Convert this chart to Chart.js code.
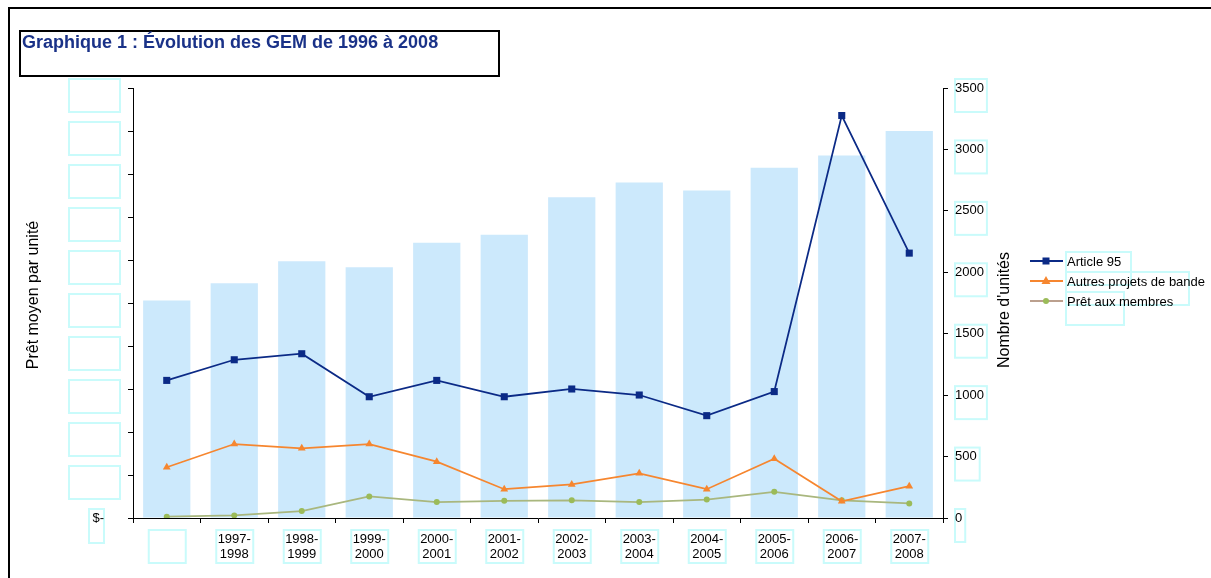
<!DOCTYPE html>
<html>
<head>
<meta charset="utf-8">
<title>Graphique 1</title>
<script src="https://cdn.jsdelivr.net/npm/chart.js@4/dist/chart.umd.min.js"></script>
<style>
  html, body { margin: 0; padding: 0; background: #fff; }
  #wrap { width: 1211px; height: 578px; }
</style>
</head>
<body>
<div id="wrap"><canvas id="chart" width="1211" height="578"></canvas></div>
<script>
// ── Data ───────────────────────────────────────────────────
const categories = ['', '1997-1998', '1998-1999', '1999-2000', '2000-2001', '2001-2002',
  '2002-2003', '2003-2004', '2004-2005', '2005-2006', '2006-2007', '2007-2008'];

// Nombre d'unités (axe de droite)
const nombreUnites = [1770, 1910, 2090, 2040, 2240, 2305, 2610, 2730, 2665, 2850, 2950, 3150];

// Prêt moyen par unité (axe de gauche, $)
const article95 = [16000, 18400, 19100, 14100, 16000, 14100, 15000, 14300, 11900, 14700, 46800, 30800];
const autresProjets = [5900, 8600, 8100, 8600, 6550, 3350, 3900, 5200, 3350, 6900, 1950, 3700];
const pretMembres = [150, 300, 800, 2500, 1850, 2000, 2050, 1850, 2150, 3050, 2050, 1700];

const leftTicks = { min: 0, max: 50000, step: 5000 };
const rightTicks = { min: 0, max: 3500, step: 500 };

// ── Styles ─────────────────────────────────────────────────
const FONT = "Arial, 'Liberation Sans', sans-serif";
const NAVY = '#0b2a86';
const ORANGE = '#f6862f';
const GREEN = '#9bbb59';
const BAR = '#cce9fc';
const CYAN = '#c9fbfb';

// ── Decorations: frame, title, axis titles, legend ─────────
const decor = {
  id: 'decor',
  beforeDraw(chart) {
    const ctx = chart.ctx;
    const { x, y, y1 } = chart.scales;
    ctx.save();
    ctx.strokeStyle = CYAN;
    ctx.lineWidth = 2;
    ctx.font = '13px ' + FONT;
    y.ticks.forEach((t, i) => {
      const py = y.getPixelForTick(i);
      if (t.value === 0) ctx.strokeRect(89, py - 9, 15, 34);
      else ctx.strokeRect(69, py - 9, 51, 33);
    });
    y1.ticks.forEach((t, i) => {
      const py = y1.getPixelForTick(i);
      const w = ctx.measureText(String(t.value)).width;
      ctx.strokeRect(955, py - 9, w + 3, 33);
    });
    x.ticks.forEach((t, i) => {
      const px = x.getPixelForTick(i);
      ctx.strokeRect(px - 18, 530, 37, 33);
    });
    // legend text boxes
    ctx.strokeRect(1066, 252, 65, 33);
    ctx.strokeRect(1066, 272, 123, 33);
    ctx.strokeRect(1066, 292, 58, 33);
    ctx.restore();
  },
  afterDraw(chart) {
    const ctx = chart.ctx;
    ctx.save();

    // outer frame (top and left edges only)
    ctx.strokeStyle = '#000';
    ctx.lineWidth = 2;
    ctx.beginPath();
    ctx.moveTo(9, 578); ctx.lineTo(9, 8); ctx.lineTo(1211, 8);
    ctx.stroke();

    // title box
    ctx.strokeRect(20, 31, 479, 45);
    ctx.fillStyle = '#1a3288';
    ctx.font = 'bold 18px ' + FONT;
    ctx.textBaseline = 'alphabetic';
    ctx.textAlign = 'left';
    ctx.fillText('Graphique 1 : Évolution des GEM de 1996 à 2008', 22, 48);

    // axis titles
    ctx.fillStyle = '#000';
    ctx.font = '16px ' + FONT;
    ctx.textAlign = 'center';
    ctx.textBaseline = 'middle';
    [['Prêt moyen par unité', 34, 295], ["Nombre d'unités", 1005, 310]].forEach(([txt, tx, ty]) => {
      ctx.save();
      ctx.translate(tx, ty);
      ctx.rotate(-Math.PI / 2);
      ctx.fillText(txt, 0, 0);
      ctx.restore();
    });

    // legend
    ctx.font = '13px ' + FONT;
    ctx.textAlign = 'left';
    ctx.textBaseline = 'middle';
    const lines = chart.data.datasets.filter(d => d.type === 'line');
    lines.forEach((ds, i) => {
      const ly = 261 + i * 20;
      ctx.strokeStyle = ds.legendLine || ds.borderColor;
      ctx.lineWidth = 2;
      ctx.beginPath();
      ctx.moveTo(1030, ly); ctx.lineTo(1063, ly);
      ctx.stroke();
      ctx.fillStyle = ds.pointBackgroundColor;
      const mx = 1046;
      if (ds.pointStyle === 'rect') {
        ctx.fillRect(mx - 3.5, ly - 3.5, 7, 7);
      } else if (ds.pointStyle === 'triangle') {
        ctx.beginPath();
        ctx.moveTo(mx, ly - 5); ctx.lineTo(mx + 4.5, ly + 3); ctx.lineTo(mx - 4.5, ly + 3);
        ctx.closePath(); ctx.fill();
      } else {
        ctx.beginPath(); ctx.arc(mx, ly, 3, 0, Math.PI * 2); ctx.fill();
      }
      ctx.fillStyle = '#000';
      ctx.fillText(ds.label, 1067, ly + 1);
    });
    ctx.restore();
  }
};

// ── Chart ──────────────────────────────────────────────────
new Chart(document.getElementById('chart'), {
  type: 'bar',
  data: {
    labels: categories,
    datasets: [
      {
        type: 'line', label: 'Article 95', data: article95, yAxisID: 'y', order: 1,
        borderColor: NAVY, backgroundColor: NAVY, borderWidth: 1.75,
        pointStyle: 'rect', pointRadius: 5, pointBackgroundColor: NAVY, pointBorderWidth: 0,
        tension: 0,
      },
      {
        type: 'line', label: 'Autres projets de bande', data: autresProjets, yAxisID: 'y', order: 1,
        borderColor: ORANGE, backgroundColor: ORANGE, borderWidth: 1.75,
        pointStyle: 'triangle', pointRadius: 4.5, pointBackgroundColor: ORANGE, pointBorderWidth: 0,
        tension: 0,
      },
      {
        type: 'line', label: 'Prêt aux membres', data: pretMembres, yAxisID: 'y', order: 1,
        borderColor: '#a9b77e', legendLine: '#bba08e', backgroundColor: GREEN, borderWidth: 1.75,
        pointStyle: 'circle', pointRadius: 3, pointBackgroundColor: GREEN, pointBorderWidth: 0,
        tension: 0,
      },
      {
        type: 'bar', label: "Nombre d'unités", data: nombreUnites, yAxisID: 'y1', order: 2,
        backgroundColor: BAR, borderWidth: 0,
        barPercentage: 0.7, categoryPercentage: 1,
      },
    ],
  },
  options: {
    responsive: false,
    animation: false,
    devicePixelRatio: 1,
    layout: { padding: { left: 10, right: 181, top: 88, bottom: 0 } },
    plugins: {
      legend: { display: false },
      title: { display: false },
      tooltip: { enabled: false },
    },
    scales: {
      x: {
        grid: { display: true, drawOnChartArea: false, offset: true, tickLength: 5, color: '#000' },
        border: { color: '#000', width: 1 },
        ticks: {
          color: '#000', font: { family: FONT, size: 13, lineHeight: 1.15 }, padding: 9,
          maxRotation: 0, autoSkip: false,
          callback(v) {
            const s = this.getLabelForValue(v);
            return s ? [s.slice(0, 5), s.slice(5)] : '';
          },
        },
        afterFit(s) { s.height = 60; },
      },
      y: {
        position: 'left',
        min: leftTicks.min, max: leftTicks.max,
        grid: { drawOnChartArea: false, tickLength: 5, color: '#000' },
        border: { color: '#000', width: 1 },
        ticks: {
          stepSize: leftTicks.step, color: '#000', padding: 24,
          font: { family: FONT, size: 13 },
          callback: v => (v === 0 ? '$-' : ''),
        },
        afterFit(s) { s.width = 123; },
      },
      y1: {
        position: 'right',
        min: rightTicks.min, max: rightTicks.max,
        grid: { drawOnChartArea: false, tickLength: 5, color: '#000' },
        border: { color: '#000', width: 1 },
        ticks: {
          stepSize: rightTicks.step, color: '#000', padding: 7,
          font: { family: FONT, size: 13 },
          callback: v => String(v),
        },
        afterFit(s) { s.width = 87; },
      },
    },
  },
  plugins: [decor],
});
</script>
</body>
</html>
